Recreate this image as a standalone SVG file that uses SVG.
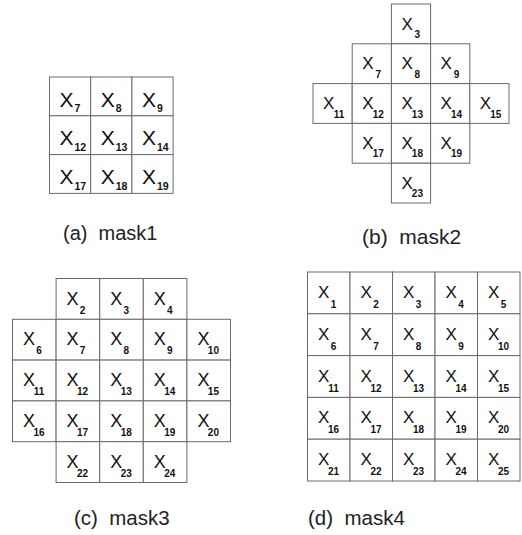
<svg xmlns="http://www.w3.org/2000/svg" width="522" height="535" viewBox="0 0 522 535">
<style>
rect.c{fill:#fff;stroke:#6a6a6a;stroke-width:1}
text{font-family:"Liberation Sans",Arial,sans-serif;fill:#111}
.x1{font-size:21px}.s1{font-size:10.5px;font-weight:bold}
.x{font-size:17px}.x3{font-size:18px}.s{font-size:10px;font-weight:bold;text-anchor:middle}
.lab{font-size:20px;fill:#222}
</style>
<rect width="522" height="535" fill="#fff"/>
<g id="mask1">
<g id="m1-x7"><rect class="c" x="49.5" y="77" width="41.2" height="38.8"/><text class="x1" x="59.5" y="106.5">X</text><text class="s1" x="74.5" y="112">7</text></g>
<g id="m1-x8"><rect class="c" x="90.7" y="77" width="41.2" height="38.8"/><text class="x1" x="100.7" y="106.5">X</text><text class="s1" x="115.7" y="112">8</text></g>
<g id="m1-x9"><rect class="c" x="131.9" y="77" width="41.2" height="38.8"/><text class="x1" x="141.9" y="106.5">X</text><text class="s1" x="156.9" y="112">9</text></g>
<g id="m1-x12"><rect class="c" x="49.5" y="115.8" width="41.2" height="38.8"/><text class="x1" x="59.5" y="145.3">X</text><text class="s1" x="74.5" y="150.8">12</text></g>
<g id="m1-x13"><rect class="c" x="90.7" y="115.8" width="41.2" height="38.8"/><text class="x1" x="100.7" y="145.3">X</text><text class="s1" x="115.7" y="150.8">13</text></g>
<g id="m1-x14"><rect class="c" x="131.9" y="115.8" width="41.2" height="38.8"/><text class="x1" x="141.9" y="145.3">X</text><text class="s1" x="156.9" y="150.8">14</text></g>
<g id="m1-x17"><rect class="c" x="49.5" y="154.6" width="41.2" height="38.8"/><text class="x1" x="59.5" y="184.1">X</text><text class="s1" x="74.5" y="189.6">17</text></g>
<g id="m1-x18"><rect class="c" x="90.7" y="154.6" width="41.2" height="38.8"/><text class="x1" x="100.7" y="184.1">X</text><text class="s1" x="115.7" y="189.6">18</text></g>
<g id="m1-x19"><rect class="c" x="131.9" y="154.6" width="41.2" height="38.8"/><text class="x1" x="141.9" y="184.1">X</text><text class="s1" x="156.9" y="189.6">19</text></g>
</g>
<g id="mask2">
<g id="m2-x3"><rect class="c" x="391.4" y="4" width="39.2" height="39.8"/><text class="x" x="401.4" y="29.5">X</text><text class="s" x="417.4" y="38">3</text></g>
<g id="m2-x7"><rect class="c" x="352.2" y="43.8" width="39.2" height="39.8"/><text class="x" x="362.2" y="69.3">X</text><text class="s" x="378.2" y="77.8">7</text></g>
<g id="m2-x8"><rect class="c" x="391.4" y="43.8" width="39.2" height="39.8"/><text class="x" x="401.4" y="69.3">X</text><text class="s" x="417.4" y="77.8">8</text></g>
<g id="m2-x9"><rect class="c" x="430.6" y="43.8" width="39.2" height="39.8"/><text class="x" x="440.6" y="69.3">X</text><text class="s" x="456.6" y="77.8">9</text></g>
<g id="m2-x11"><rect class="c" x="313" y="83.6" width="39.2" height="39.8"/><text class="x" x="323" y="109.1">X</text><text class="s" x="339" y="117.6">11</text></g>
<g id="m2-x12"><rect class="c" x="352.2" y="83.6" width="39.2" height="39.8"/><text class="x" x="362.2" y="109.1">X</text><text class="s" x="378.2" y="117.6">12</text></g>
<g id="m2-x13"><rect class="c" x="391.4" y="83.6" width="39.2" height="39.8"/><text class="x" x="401.4" y="109.1">X</text><text class="s" x="417.4" y="117.6">13</text></g>
<g id="m2-x14"><rect class="c" x="430.6" y="83.6" width="39.2" height="39.8"/><text class="x" x="440.6" y="109.1">X</text><text class="s" x="456.6" y="117.6">14</text></g>
<g id="m2-x15"><rect class="c" x="469.8" y="83.6" width="39.2" height="39.8"/><text class="x" x="479.8" y="109.1">X</text><text class="s" x="495.8" y="117.6">15</text></g>
<g id="m2-x17"><rect class="c" x="352.2" y="123.4" width="39.2" height="39.8"/><text class="x" x="362.2" y="148.9">X</text><text class="s" x="378.2" y="157.4">17</text></g>
<g id="m2-x18"><rect class="c" x="391.4" y="123.4" width="39.2" height="39.8"/><text class="x" x="401.4" y="148.9">X</text><text class="s" x="417.4" y="157.4">18</text></g>
<g id="m2-x19"><rect class="c" x="430.6" y="123.4" width="39.2" height="39.8"/><text class="x" x="440.6" y="148.9">X</text><text class="s" x="456.6" y="157.4">19</text></g>
<g id="m2-x23"><rect class="c" x="391.4" y="163.2" width="39.2" height="39.8"/><text class="x" x="401.4" y="188.7">X</text><text class="s" x="417.4" y="197.2">23</text></g>
</g>
<g id="mask3">
<g id="m3-x2"><rect class="c" x="56.1" y="278.5" width="43.6" height="40.8"/><text class="x3" x="66.6" y="304.5">X</text><text class="s" x="82.6" y="313.5">2</text></g>
<g id="m3-x3"><rect class="c" x="99.7" y="278.5" width="43.6" height="40.8"/><text class="x3" x="110.2" y="304.5">X</text><text class="s" x="126.2" y="313.5">3</text></g>
<g id="m3-x4"><rect class="c" x="143.3" y="278.5" width="43.6" height="40.8"/><text class="x3" x="153.8" y="304.5">X</text><text class="s" x="169.8" y="313.5">4</text></g>
<g id="m3-x6"><rect class="c" x="12.5" y="319.3" width="43.6" height="40.8"/><text class="x3" x="23" y="345.3">X</text><text class="s" x="39" y="354.3">6</text></g>
<g id="m3-x7"><rect class="c" x="56.1" y="319.3" width="43.6" height="40.8"/><text class="x3" x="66.6" y="345.3">X</text><text class="s" x="82.6" y="354.3">7</text></g>
<g id="m3-x8"><rect class="c" x="99.7" y="319.3" width="43.6" height="40.8"/><text class="x3" x="110.2" y="345.3">X</text><text class="s" x="126.2" y="354.3">8</text></g>
<g id="m3-x9"><rect class="c" x="143.3" y="319.3" width="43.6" height="40.8"/><text class="x3" x="153.8" y="345.3">X</text><text class="s" x="169.8" y="354.3">9</text></g>
<g id="m3-x10"><rect class="c" x="186.9" y="319.3" width="43.6" height="40.8"/><text class="x3" x="197.4" y="345.3">X</text><text class="s" x="213.4" y="354.3">10</text></g>
<g id="m3-x11"><rect class="c" x="12.5" y="360.1" width="43.6" height="40.8"/><text class="x3" x="23" y="386.1">X</text><text class="s" x="39" y="395.1">11</text></g>
<g id="m3-x12"><rect class="c" x="56.1" y="360.1" width="43.6" height="40.8"/><text class="x3" x="66.6" y="386.1">X</text><text class="s" x="82.6" y="395.1">12</text></g>
<g id="m3-x13"><rect class="c" x="99.7" y="360.1" width="43.6" height="40.8"/><text class="x3" x="110.2" y="386.1">X</text><text class="s" x="126.2" y="395.1">13</text></g>
<g id="m3-x14"><rect class="c" x="143.3" y="360.1" width="43.6" height="40.8"/><text class="x3" x="153.8" y="386.1">X</text><text class="s" x="169.8" y="395.1">14</text></g>
<g id="m3-x15"><rect class="c" x="186.9" y="360.1" width="43.6" height="40.8"/><text class="x3" x="197.4" y="386.1">X</text><text class="s" x="213.4" y="395.1">15</text></g>
<g id="m3-x16"><rect class="c" x="12.5" y="400.9" width="43.6" height="40.8"/><text class="x3" x="23" y="426.9">X</text><text class="s" x="39" y="435.9">16</text></g>
<g id="m3-x17"><rect class="c" x="56.1" y="400.9" width="43.6" height="40.8"/><text class="x3" x="66.6" y="426.9">X</text><text class="s" x="82.6" y="435.9">17</text></g>
<g id="m3-x18"><rect class="c" x="99.7" y="400.9" width="43.6" height="40.8"/><text class="x3" x="110.2" y="426.9">X</text><text class="s" x="126.2" y="435.9">18</text></g>
<g id="m3-x19"><rect class="c" x="143.3" y="400.9" width="43.6" height="40.8"/><text class="x3" x="153.8" y="426.9">X</text><text class="s" x="169.8" y="435.9">19</text></g>
<g id="m3-x20"><rect class="c" x="186.9" y="400.9" width="43.6" height="40.8"/><text class="x3" x="197.4" y="426.9">X</text><text class="s" x="213.4" y="435.9">20</text></g>
<g id="m3-x22"><rect class="c" x="56.1" y="441.7" width="43.6" height="40.8"/><text class="x3" x="66.6" y="467.7">X</text><text class="s" x="82.6" y="476.7">22</text></g>
<g id="m3-x23"><rect class="c" x="99.7" y="441.7" width="43.6" height="40.8"/><text class="x3" x="110.2" y="467.7">X</text><text class="s" x="126.2" y="476.7">23</text></g>
<g id="m3-x24"><rect class="c" x="143.3" y="441.7" width="43.6" height="40.8"/><text class="x3" x="153.8" y="467.7">X</text><text class="s" x="169.8" y="476.7">24</text></g>
</g>
<g id="mask4">
<g id="m4-x1"><rect class="c" x="307.5" y="272" width="42.5" height="41.8"/><text class="x" x="318" y="298">X</text><text class="s" x="333.5" y="308">1</text></g>
<g id="m4-x2"><rect class="c" x="350" y="272" width="42.5" height="41.8"/><text class="x" x="360.5" y="298">X</text><text class="s" x="376" y="308">2</text></g>
<g id="m4-x3"><rect class="c" x="392.5" y="272" width="42.5" height="41.8"/><text class="x" x="403" y="298">X</text><text class="s" x="418.5" y="308">3</text></g>
<g id="m4-x4"><rect class="c" x="435" y="272" width="42.5" height="41.8"/><text class="x" x="445.5" y="298">X</text><text class="s" x="461" y="308">4</text></g>
<g id="m4-x5"><rect class="c" x="477.5" y="272" width="42.5" height="41.8"/><text class="x" x="488" y="298">X</text><text class="s" x="503.5" y="308">5</text></g>
<g id="m4-x6"><rect class="c" x="307.5" y="313.8" width="42.5" height="41.8"/><text class="x" x="318" y="339.8">X</text><text class="s" x="333.5" y="349.8">6</text></g>
<g id="m4-x7"><rect class="c" x="350" y="313.8" width="42.5" height="41.8"/><text class="x" x="360.5" y="339.8">X</text><text class="s" x="376" y="349.8">7</text></g>
<g id="m4-x8"><rect class="c" x="392.5" y="313.8" width="42.5" height="41.8"/><text class="x" x="403" y="339.8">X</text><text class="s" x="418.5" y="349.8">8</text></g>
<g id="m4-x9"><rect class="c" x="435" y="313.8" width="42.5" height="41.8"/><text class="x" x="445.5" y="339.8">X</text><text class="s" x="461" y="349.8">9</text></g>
<g id="m4-x10"><rect class="c" x="477.5" y="313.8" width="42.5" height="41.8"/><text class="x" x="488" y="339.8">X</text><text class="s" x="503.5" y="349.8">10</text></g>
<g id="m4-x11"><rect class="c" x="307.5" y="355.6" width="42.5" height="41.8"/><text class="x" x="318" y="381.6">X</text><text class="s" x="333.5" y="391.6">11</text></g>
<g id="m4-x12"><rect class="c" x="350" y="355.6" width="42.5" height="41.8"/><text class="x" x="360.5" y="381.6">X</text><text class="s" x="376" y="391.6">12</text></g>
<g id="m4-x13"><rect class="c" x="392.5" y="355.6" width="42.5" height="41.8"/><text class="x" x="403" y="381.6">X</text><text class="s" x="418.5" y="391.6">13</text></g>
<g id="m4-x14"><rect class="c" x="435" y="355.6" width="42.5" height="41.8"/><text class="x" x="445.5" y="381.6">X</text><text class="s" x="461" y="391.6">14</text></g>
<g id="m4-x15"><rect class="c" x="477.5" y="355.6" width="42.5" height="41.8"/><text class="x" x="488" y="381.6">X</text><text class="s" x="503.5" y="391.6">15</text></g>
<g id="m4-x16"><rect class="c" x="307.5" y="397.4" width="42.5" height="41.8"/><text class="x" x="318" y="423.4">X</text><text class="s" x="333.5" y="433.4">16</text></g>
<g id="m4-x17"><rect class="c" x="350" y="397.4" width="42.5" height="41.8"/><text class="x" x="360.5" y="423.4">X</text><text class="s" x="376" y="433.4">17</text></g>
<g id="m4-x18"><rect class="c" x="392.5" y="397.4" width="42.5" height="41.8"/><text class="x" x="403" y="423.4">X</text><text class="s" x="418.5" y="433.4">18</text></g>
<g id="m4-x19"><rect class="c" x="435" y="397.4" width="42.5" height="41.8"/><text class="x" x="445.5" y="423.4">X</text><text class="s" x="461" y="433.4">19</text></g>
<g id="m4-x20"><rect class="c" x="477.5" y="397.4" width="42.5" height="41.8"/><text class="x" x="488" y="423.4">X</text><text class="s" x="503.5" y="433.4">20</text></g>
<g id="m4-x21"><rect class="c" x="307.5" y="439.2" width="42.5" height="41.8"/><text class="x" x="318" y="465.2">X</text><text class="s" x="333.5" y="475.2">21</text></g>
<g id="m4-x22"><rect class="c" x="350" y="439.2" width="42.5" height="41.8"/><text class="x" x="360.5" y="465.2">X</text><text class="s" x="376" y="475.2">22</text></g>
<g id="m4-x23"><rect class="c" x="392.5" y="439.2" width="42.5" height="41.8"/><text class="x" x="403" y="465.2">X</text><text class="s" x="418.5" y="475.2">23</text></g>
<g id="m4-x24"><rect class="c" x="435" y="439.2" width="42.5" height="41.8"/><text class="x" x="445.5" y="465.2">X</text><text class="s" x="461" y="475.2">24</text></g>
<g id="m4-x25"><rect class="c" x="477.5" y="439.2" width="42.5" height="41.8"/><text class="x" x="488" y="465.2">X</text><text class="s" x="503.5" y="475.2">25</text></g>
</g>
<g id="connectors"/>
<g id="labels">
<text class="lab" x="63" y="239.5" xml:space="preserve">(a)  mask1</text>
<text class="lab" x="362" y="243.5" style="font-size:21px" xml:space="preserve">(b)  mask2</text>
<text class="lab" x="74" y="525" style="font-size:20.5px" xml:space="preserve">(c)  mask3</text>
<text class="lab" x="308" y="525" style="font-size:20.5px" xml:space="preserve">(d)  mask4</text>
</g>
</svg>
